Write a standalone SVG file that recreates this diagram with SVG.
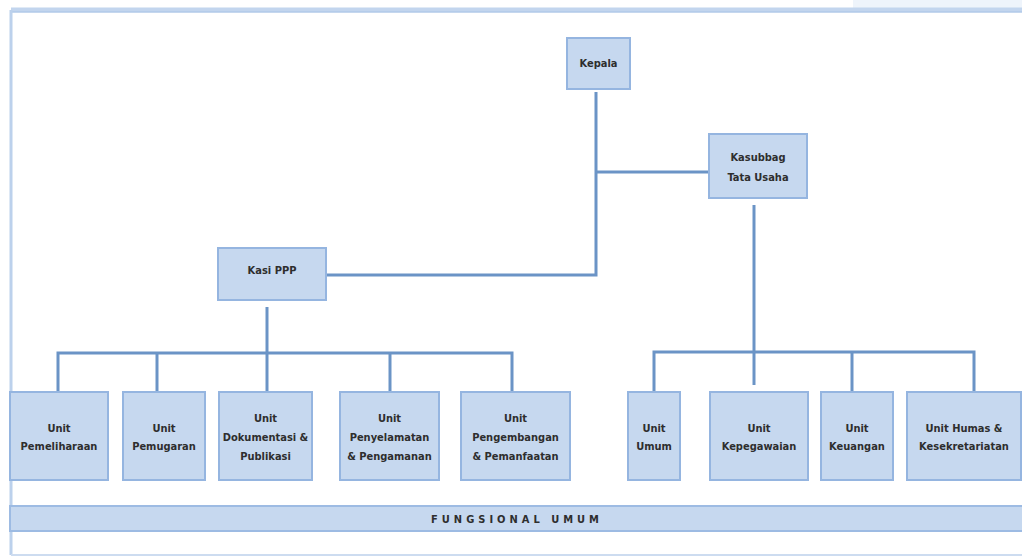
<svg xmlns="http://www.w3.org/2000/svg" width="1022" height="559" viewBox="0 0 1022 559">
<style>
.box{fill:#c6d8ef;stroke:#95b5e0;stroke-width:2}
.t{font-family:"DejaVu Sans Condensed","DejaVu Sans",sans-serif;font-weight:bold;font-size:11px;fill:#2e2e2e;text-anchor:middle}
.ln{stroke:#6b94c6;stroke-width:3;fill:none}
</style>
<rect x="0" y="0" width="1022" height="559" fill="#ffffff"/>
<rect x="853" y="0" width="169" height="8" fill="#eef4fb"/>
<g id="frame">
<line x1="11" y1="10" x2="1022" y2="10" stroke="#c2d5ee" stroke-width="5"/>
<line x1="11" y1="12" x2="1022" y2="12" stroke="#a9c3e6" stroke-width="1"/>
<line x1="11" y1="10" x2="11" y2="555" stroke="#bcd1ec" stroke-width="3"/>
<line x1="11" y1="555" x2="1022" y2="555" stroke="#cddcf0" stroke-width="2"/>
</g>
<g id="connectors">
<polyline class="ln" points="596,92 596,275 326,275"/>
<line class="ln" x1="596" y1="172" x2="709" y2="172"/>
<line class="ln" x1="754" y1="205" x2="754" y2="385"/>
<line class="ln" x1="267" y1="307" x2="267" y2="392"/>
<polyline class="ln" points="58,392 58,353 512,353 512,392"/>
<line class="ln" x1="157" y1="353" x2="157" y2="392"/>
<line class="ln" x1="390" y1="353" x2="390" y2="392"/>
<polyline class="ln" points="654,392 654,352 974,352 974,392"/>
<line class="ln" x1="852" y1="352" x2="852" y2="392"/>
</g>
<g id="kepala"><rect class="box" x="567" y="38" width="63" height="51"/><text class="t" x="598.5" y="67">Kepala</text></g>
<g id="kasubbag"><rect class="box" x="709" y="134" width="98" height="64"/><text class="t" x="758" y="161">Kasubbag</text><text class="t" x="758" y="181">Tata Usaha</text></g>
<g id="kasi"><rect class="box" x="218" y="248" width="108" height="52"/><text class="t" x="272" y="274">Kasi PPP</text></g>
<g id="pemeliharaan"><rect class="box" x="10" y="392" width="98" height="88"/><text class="t" x="59" y="432">Unit</text><text class="t" x="59" y="450">Pemeliharaan</text></g>
<g id="pemugaran"><rect class="box" x="123" y="392" width="82" height="88"/><text class="t" x="164" y="432">Unit</text><text class="t" x="164" y="450">Pemugaran</text></g>
<g id="dokumentasi"><rect class="box" x="219" y="392" width="93" height="88"/><text class="t" x="265.5" y="422">Unit</text><text class="t" x="265.5" y="441">Dokumentasi &amp;</text><text class="t" x="265.5" y="460">Publikasi</text></g>
<g id="penyelamatan"><rect class="box" x="340" y="392" width="99" height="88"/><text class="t" x="389.5" y="422">Unit</text><text class="t" x="389.5" y="441">Penyelamatan</text><text class="t" x="389.5" y="460">&amp; Pengamanan</text></g>
<g id="pengembangan"><rect class="box" x="461" y="392" width="109" height="88"/><text class="t" x="515.5" y="422">Unit</text><text class="t" x="515.5" y="441">Pengembangan</text><text class="t" x="515.5" y="460">&amp; Pemanfaatan</text></g>
<g id="umum"><rect class="box" x="628" y="392" width="52" height="88"/><text class="t" x="654" y="432">Unit</text><text class="t" x="654" y="450">Umum</text></g>
<g id="kepegawaian"><rect class="box" x="710" y="392" width="98" height="88"/><text class="t" x="759" y="432">Unit</text><text class="t" x="759" y="450">Kepegawaian</text></g>
<g id="keuangan"><rect class="box" x="821" y="392" width="72" height="88"/><text class="t" x="857" y="432">Unit</text><text class="t" x="857" y="450">Keuangan</text></g>
<g id="humas"><rect class="box" x="907" y="392" width="114" height="88"/><text class="t" x="964" y="432">Unit Humas &amp;</text><text class="t" x="964" y="450">Kesekretariatan</text></g>
<g id="fungsional"><rect x="10" y="506" width="1013" height="25" fill="#c6d8ef" stroke="#9dbbe3" stroke-width="2"/><text class="t" x="517" y="523" font-size="10" letter-spacing="4">FUNGSIONAL UMUM</text></g>
</svg>
